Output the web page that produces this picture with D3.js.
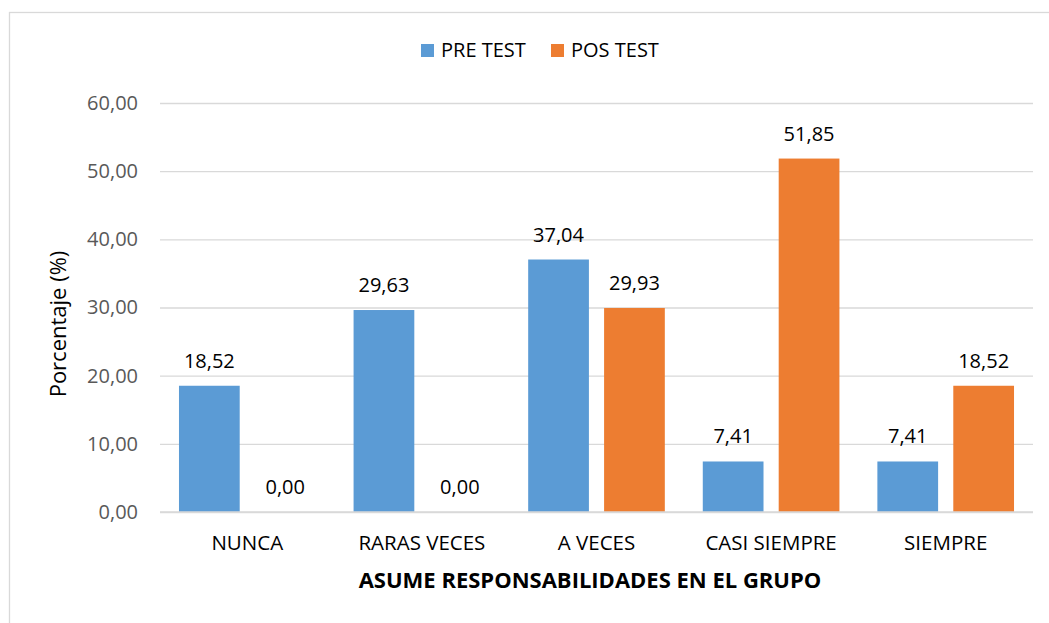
<!DOCTYPE html>
<html>
<head>
<meta charset="utf-8">
<script src="https://d3js.org/d3.v7.min.js"></script>
<style>
body { margin: 0; padding: 0; background: white; }
text { font-family: "Open Sans", "Liberation Sans", sans-serif; }
</style>
</head>
<body>
<svg id="chart" width="1049" height="623"></svg>
<script>
// data
var categories = ["NUNCA", "RARAS VECES", "A VECES", "CASI SIEMPRE", "SIEMPRE"];
var series = ["PRE TEST", "POS TEST"];
var preTest = [18.52, 29.63, 37.04, 7.41, 7.41];
var posTest = [0.00, 0.00, 29.93, 51.85, 18.52];
var yTicks = [0, 10, 20, 30, 40, 50, 60];
var colors = ["#5b9bd5", "#ed7d31"];

var svg = d3.select("#chart");

// chart border
svg.append("rect")
  .attr("x", 9.5).attr("y", 12.5)
  .attr("width", 1060).attr("height", 640)
  .attr("fill", "white").attr("stroke", "#d9d9d9").attr("stroke-width", 1.3);

var margin = {top: 103, left: 160, right: 1033, bottom: 512};

var x = d3.scaleBand().domain(categories).range([margin.left, margin.right]);
var xInner = d3.scaleBand().domain(series)
  .range([0, x.bandwidth()]).paddingInner(0.2).paddingOuter(0.25);
var y = d3.scaleLinear().domain([0, 60]).range([margin.bottom, margin.top]);

var fmt = function(v) { return d3.format(".2f")(v).replace(".", ","); };

// gridlines + y labels
var yAxis = d3.axisLeft(y).tickValues(yTicks).tickSize(-(margin.right - margin.left))
  .tickFormat(fmt).tickPadding(22);
var gy = svg.append("g").attr("transform", "translate(" + margin.left + ",0)").call(yAxis);
gy.select(".domain").remove();
gy.selectAll(".tick line").attr("stroke", "#d9d9d9").attr("stroke-width", 1.3);
gy.selectAll(".tick text").attr("fill", "#595959").style("font-size", "20px")
  .style("font-family", "'Open Sans', sans-serif");

var rows = categories.map(function(c, i) {
  return {cat: c, values: [preTest[i], posTest[i]]};
});

var groups = svg.append("g").selectAll("g").data(rows).enter().append("g")
  .attr("transform", function(d) { return "translate(" + x(d.cat) + ",0)"; });

groups.selectAll("rect").data(function(d) {
  return d.values.map(function(v, j) { return {s: series[j], v: v}; });
}).enter().append("rect")
  .attr("x", function(d) { return xInner(d.s); })
  .attr("width", xInner.bandwidth())
  .attr("y", function(d) { return y(d.v); })
  .attr("height", function(d) { return y(0) - y(d.v); })
  .attr("fill", function(d, j) { return colors[j]; });

groups.selectAll("text.val").data(function(d) {
  return d.values.map(function(v, j) { return {s: series[j], v: v}; });
}).enter().append("text")
  .attr("class", "val")
  .attr("x", function(d) { return xInner(d.s) + xInner.bandwidth() / 2; })
  .attr("y", function(d) { return y(d.v) - 18; })
  .attr("text-anchor", "middle")
  .attr("fill", "#000")
  .style("font-size", "20px")
  .text(function(d) { return fmt(d.v); });

// baseline
svg.append("line")
  .attr("x1", margin.left).attr("x2", margin.right)
  .attr("y1", y(0)).attr("y2", y(0))
  .attr("stroke", "#d9d9d9").attr("stroke-width", 1.5);

// category labels
svg.append("g").selectAll("text").data(categories).enter().append("text")
  .attr("x", function(d) { return x(d) + x.bandwidth() / 2; })
  .attr("y", 550)
  .attr("text-anchor", "middle")
  .attr("fill", "#000")
  .style("font-size", "20.5px")
  .text(function(d) { return d; });

// axis titles
svg.append("text")
  .attr("x", 590).attr("y", 588)
  .attr("text-anchor", "middle")
  .style("font-size", "22px").style("font-weight", "bold")
  .text("ASUME RESPONSABILIDADES EN EL GRUPO");

svg.append("text")
  .attr("transform", "translate(66,324) rotate(-90)")
  .attr("text-anchor", "middle")
  .style("font-size", "22px")
  .text("Porcentaje (%)");

// legend
var legend = svg.append("g").selectAll("g").data(series).enter().append("g")
  .attr("transform", function(d, i) { return "translate(" + (421 + i * 130) + ",44)"; });
legend.append("rect").attr("width", 13).attr("height", 13)
  .attr("fill", function(d, i) { return colors[i]; });
legend.append("text").attr("x", 20).attr("y", 13)
  .style("font-size", "20px").attr("fill", "#000")
  .text(function(d) { return d; });
</script>
</body>
</html>
